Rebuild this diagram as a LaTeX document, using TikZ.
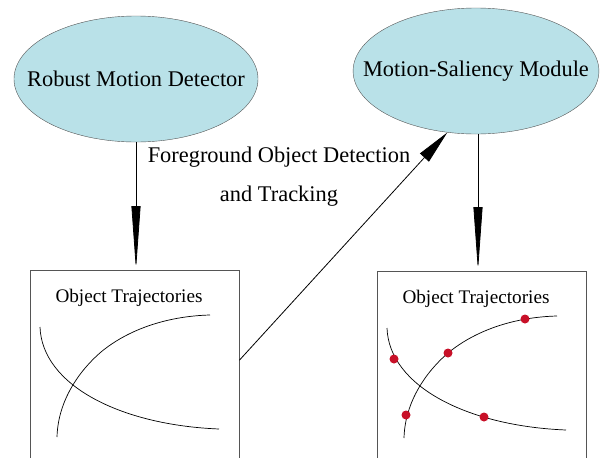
\documentclass[tikz,border=0pt]{standalone}
\usepackage{fontspec}
\setmainfont{Liberation Serif}
\usetikzlibrary{arrows.meta,shapes.geometric,positioning}
\definecolor{bleuclair}{RGB}{185,225,232}
\definecolor{rouge}{RGB}{200,16,40}
\definecolor{gris}{RGB}{85,85,85}

\begin{document}
\begin{tikzpicture}[x=1pt,y=-1pt,
		module/.style={ellipse,draw=gris,fill=bleuclair,minimum width=244pt,minimum height=126pt,inner xsep=-26pt,inner ysep=0pt,font=\fontsize{22.4}{26}\selectfont},
		cadre/.style={rectangle,draw=gris,minimum width=209pt,minimum height=200pt,inner sep=0pt,anchor=north west},
		fleche/.style={-{Triangle[length=64pt,width=9pt]},line width=0.8pt},
		pastille/.style={circle,fill=rouge,inner sep=0pt,minimum size=9pt}]
	\useasboundingbox (0,0) rectangle (600,458);
	
	\node[module] (rmd) at (136,79) {Robust Motion Detector};
	\node[module] (msm) at (476,71) {Motion-Saliency Module};
	\node[cadre] (ot1) at (30,270) {};
	\node[cadre] (ot2) at (377,271) {};
	
	\draw[fleche] (rmd.south) -- (rmd.south |- ot1.north);
	\draw[fleche] ([xshift=2pt]msm.south) -- ([xshift=2pt]msm.south |- ot2.north);
	\draw[-{Triangle[length=34pt,width=12pt]},line width=0.8pt] ([yshift=10pt]ot1.east) -- (msm.245);
	\node[font=\fontsize{22.4}{39}\selectfont,align=center] (etiq) at (279,177)
		{Foreground Object Detection\\and Tracking};
	
	\foreach \boite in {ot1,ot2}{
		\begin{scope}[shift={(\boite.north west)}]
			\node[font=\fontsize{19.2}{22}\selectfont] (titre\boite) at (99,28) {Object Trajectories};
			\draw[line width=0.7pt] (10,57) .. controls (12,115) and (90,155) .. (189,159);
			\draw[line width=0.7pt] (27,167) .. controls (28,130) and (50,100) .. (71,82)
				.. controls (100,58) and (140,46) .. (180,45);
		\end{scope}
	}
	
	% points detectes
	\begin{scope}[shift={(ot2.north west)}]
		\foreach \px/\py [count=\k] in {17/88,71/82,148/48,29/144,107/146}
			\node[pastille] (p\k) at (\px,\py) {};
	\end{scope}
\end{tikzpicture}
\end{document}
